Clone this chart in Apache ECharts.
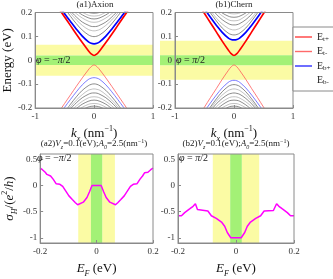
<!DOCTYPE html>
<html><head><meta charset="utf-8">
<script src="https://cdn.jsdelivr.net/npm/echarts@6/dist/echarts.min.js"></script>
<style>html,body{margin:0;padding:0;background:#fff}#c{width:333px;height:279px}</style>
</head><body><div id="c"></div>
<script>
// ---- data (bands are symmetric in k; values read for k >= 0) ----
const kHalf = [0, 0.05, 0.1, 0.2, 0.3, 0.4, 0.5, 0.6, 0.7];

// (a1) Axion
const a1Etp = [0.02, 0.027, 0.041, 0.074, 0.109, 0.145, 0.181, 0.217, 0.253];
const a1Etm = [-0.02, -0.027, -0.041, -0.074, -0.109, -0.145, -0.181, -0.217, -0.253];
const a1Ebp = [0.069, 0.071, 0.078, 0.101, 0.130, 0.162, 0.195, 0.229, 0.264];
const a1Ebm = [-0.073, -0.075, -0.081, -0.103, -0.132, -0.164, -0.197, -0.231, -0.266];
const a1SubUp = [
  [0.099, 0.101, 0.107, 0.126, 0.153, 0.184, 0.218],
  [0.123, 0.125, 0.129, 0.146, 0.169, 0.197, 0.229],
  [0.141, 0.142, 0.147, 0.160, 0.181, 0.206],
  [0.159, 0.160, 0.164, 0.177, 0.195, 0.219],
  [0.173, 0.174, 0.178, 0.190, 0.207],
  [0.185, 0.186, 0.189, 0.201],
  [0.197, 0.198, 0.201, 0.212]
];
const a1SubDn = [
  [-0.099, -0.101, -0.107, -0.126, -0.153, -0.184, -0.218],
  [-0.120, -0.122, -0.126, -0.144, -0.167, -0.195, -0.227],
  [-0.137, -0.138, -0.143, -0.157, -0.178, -0.203],
  [-0.153, -0.154, -0.158, -0.172, -0.191, -0.214],
  [-0.167, -0.168, -0.172, -0.184, -0.202],
  [-0.181, -0.182, -0.185, -0.197, -0.214],
  [-0.192, -0.193, -0.196, -0.207]
];

// (b1) Chern
const b1Etp = [0.02, 0.028, 0.044, 0.080, 0.119, 0.157, 0.196, 0.235, 0.273];
const b1Etm = [-0.02, -0.028, -0.044, -0.080, -0.119, -0.157, -0.196, -0.235, -0.273];
const b1Ebp = [0.085, 0.087, 0.094, 0.117, 0.147, 0.180, 0.215, 0.25];
const b1Ebm = [-0.084, -0.086, -0.093, -0.116, -0.146, -0.179, -0.214, -0.25];
const b1SubUp = [
  [0.106, 0.108, 0.114, 0.135, 0.165, 0.199, 0.235],
  [0.127, 0.129, 0.134, 0.152, 0.177, 0.210],
  [0.148, 0.149, 0.154, 0.170, 0.193, 0.224],
  [0.165, 0.166, 0.170, 0.186, 0.206],
  [0.180, 0.181, 0.185, 0.198, 0.217],
  [0.194, 0.195, 0.198, 0.211]
];
const b1SubDn = [
  [-0.102, -0.104, -0.110, -0.132, -0.162, -0.196, -0.232],
  [-0.120, -0.122, -0.127, -0.146, -0.172, -0.204],
  [-0.137, -0.139, -0.143, -0.160, -0.183, -0.213],
  [-0.153, -0.154, -0.159, -0.174, -0.195, -0.223],
  [-0.167, -0.168, -0.172, -0.187, -0.207],
  [-0.181, -0.182, -0.186, -0.199, -0.218],
  [-0.192, -0.193, -0.197, -0.210]
];

// (a2) Hall conductance vs E_F
const a2E = [-0.2, -0.192, -0.182, -0.176, -0.170, -0.163, -0.154, -0.143, -0.137, -0.130, -0.120, -0.109, -0.098, -0.086, -0.075, -0.067, -0.047, -0.034, -0.025, -0.019, -0.016,
             0.016, 0.019, 0.025, 0.034, 0.047, 0.067, 0.075, 0.086, 0.098, 0.109, 0.120, 0.130, 0.137, 0.143, 0.154, 0.163, 0.170, 0.176, 0.182, 0.192, 0.2];
const a2S = [0.33, 0.30, 0.25, 0.21, 0.24, 0.18, 0.12, 0.03, 0.05, 0.02, -0.02, -0.11, -0.20, -0.27, -0.33, -0.37, -0.32, -0.23, -0.12, -0.04, 0.0,
             0.0, -0.04, -0.12, -0.23, -0.32, -0.37, -0.33, -0.27, -0.20, -0.11, -0.02, 0.02, 0.05, 0.03, 0.12, 0.18, 0.24, 0.21, 0.25, 0.30, 0.33];
// (b2)
const b2E = [-0.2, -0.188, -0.177, -0.160, -0.148, -0.140, -0.133, -0.129, -0.097, -0.085, -0.068, -0.050, -0.039, -0.030, -0.018,
             0.018, 0.030, 0.039, 0.050, 0.068, 0.085, 0.097, 0.129, 0.133, 0.140, 0.148, 0.160, 0.177, 0.188, 0.2];
const b2S = [-0.58, -0.58, -0.52, -0.45, -0.40, -0.35, -0.46, -0.48, -0.49, -0.58, -0.63, -0.70, -0.78, -0.90, -1.0,
             -1.0, -0.90, -0.78, -0.70, -0.63, -0.58, -0.49, -0.48, -0.46, -0.35, -0.40, -0.45, -0.52, -0.58, -0.58];

// band half-widths [yellow, green]
const bandA1 = [0.065, 0.02], bandB1 = [0.082, 0.021], bandA2 = [0.065, 0.02], bandB2 = [0.08, 0.02];
const legendNames = ['Et+', 'Et-', 'Eb+', 'Eb-'];
const sTicks = [-1, -0.5, 0, 0.5];

// ---- styles ----
const SERIF = 'Liberation Serif';
const YEL = '#fbfba4', GRN = '#a3f176';
const AX = '#8a8a8a';
const G1 = '#5a5a5a', G2 = '#a8a8a8';

function mirror(vals) {
  const pts = [];
  for (let i = vals.length - 1; i > 0; i--) pts.push([-kHalf[i], vals[i]]);
  for (let i = 0; i < vals.length; i++) pts.push([kHalf[i], vals[i]]);
  return pts;
}
function curve(ax, vals, color, width, name) {
  const s = {type: 'line', xAxisIndex: ax, yAxisIndex: ax, data: mirror(vals), smooth: 0.35,
    symbol: 'none', showSymbol: false, lineStyle: {color, width}, itemStyle: {color}, z: 3, silent: true, clip: true};
  if (name) s.name = name;
  return s;
}
function hBand(ax, b) {
  return {type: 'line', xAxisIndex: ax, yAxisIndex: ax, data: [], z: 1, silent: true,
    markArea: {silent: true, data: [
      [{yAxis: -b[0], itemStyle: {color: YEL}}, {yAxis: -b[1]}],
      [{yAxis: b[1], itemStyle: {color: YEL}}, {yAxis: b[0]}],
      [{yAxis: -b[1], itemStyle: {color: GRN}}, {yAxis: b[1]}]
    ]}};
}
function vBand(ax, b) {
  return {type: 'line', xAxisIndex: ax, yAxisIndex: ax, data: [], z: 1, silent: true,
    markArea: {silent: true, data: [
      [{xAxis: -b[0], itemStyle: {color: YEL}}, {xAxis: -b[1]}],
      [{xAxis: b[1], itemStyle: {color: YEL}}, {xAxis: b[0]}],
      [{xAxis: -b[1], itemStyle: {color: GRN}}, {xAxis: b[1]}]
    ]}};
}
const rich = {
  n: {fontFamily: SERIF, fontSize: 13, lineHeight: 18, color: '#111'},
  i: {fontFamily: SERIF, fontSize: 13, fontStyle: 'italic', lineHeight: 18, color: '#111'},
  s: {fontFamily: SERIF, fontSize: 8, fontStyle: 'italic', lineHeight: 18, verticalAlign: 'bottom', color: '#111'},
  p: {fontFamily: SERIF, fontSize: 8, lineHeight: 18, verticalAlign: 'top', color: '#111'}
};
const nameStyle = {fontFamily: SERIF, fontSize: 13, color: '#111', rich};
const lab = {fontFamily: SERIF, fontSize: 9, color: '#333'};
function xAx(gi, min, max, interval, name, show) {
  return {type: 'value', gridIndex: gi, min, max, interval, show: show !== false, z: 5,
    axisLine: {show: true, onZero: false, lineStyle: {color: AX}}, axisTick: {inside: true, length: 3, lineStyle: {color: AX}},
    splitLine: {show: false}, axisLabel: Object.assign({margin: 4}, lab),
    name, nameLocation: 'middle', nameGap: 17, nameTextStyle: nameStyle};
}
function yAx(gi, min, max, interval, name, show, custom, gap) {
  const a = {type: 'value', gridIndex: gi, min, max, show: show !== false, z: 5,
    axisLine: {show: true, onZero: false, lineStyle: {color: AX}}, axisTick: {inside: true, length: 3, lineStyle: {color: AX}},
    splitLine: {show: false}, axisLabel: Object.assign({margin: 3}, lab),
    name, nameLocation: 'middle', nameRotate: 90, nameGap: gap || 18, nameTextStyle: nameStyle};
  if (custom) { a.axisLabel.customValues = custom; a.axisTick.customValues = custom; }
  else a.interval = interval;
  return a;
}

const series = [];
series.push(hBand(0, bandA1));
series.push(hBand(4, bandB1));
series.push(vBand(2, bandA2));
series.push(vBand(3, bandB2));

function bandSet(ax, up, dn, Etp, Etm, Ebp, Ebm) {
  up.forEach((v, i) => series.push(curve(ax, v, i % 2 ? G2 : G1, 0.7)));
  dn.forEach((v, i) => series.push(curve(ax, v, i % 2 ? G2 : G1, 0.7)));
  series.push(curve(ax, Ebm, '#5a5aff', 0.8, 'Eb-'));
  series.push(curve(ax, Etm, '#ff5a5a', 0.8, 'Et-'));
  series.push(curve(ax, Ebp, '#0000ff', 1.7, 'Eb+'));
  series.push(curve(ax, Etp, '#ff0000', 1.7, 'Et+'));
}
bandSet(0, a1SubUp, a1SubDn, a1Etp, a1Etm, a1Ebp, a1Ebm);
bandSet(1, b1SubUp, b1SubDn, b1Etp, b1Etm, b1Ebp, b1Ebm);
series.push({type: 'line', xAxisIndex: 2, yAxisIndex: 2, data: a2E.map((e, i) => [e, a2S[i]]), symbol: 'none',
  lineStyle: {color: '#ff00ff', width: 1.5}, z: 3, silent: true});
series.push({type: 'line', xAxisIndex: 3, yAxisIndex: 3, data: b2E.map((e, i) => [e, b2S[i]]), symbol: 'none',
  lineStyle: {color: '#ff00ff', width: 1.5}, z: 3, silent: true});

const kName = '{i|k}{s|x}{n| (nm}{p|−1}{n|)}';
const eName = '{i|E}{s|F}{n| (eV)}';
const sName = '{i|σ}{s|H}{n|/(}{i|e}{p|2}{n|/}{i|h}{n|)}';

const smallRich = {
  n: {fontFamily: SERIF, fontSize: 9, lineHeight: 12, fill: '#222', color: '#222'},
  i: {fontFamily: SERIF, fontSize: 9, fontStyle: 'italic', lineHeight: 12, color: '#222'},
  s: {fontFamily: SERIF, fontSize: 6, fontStyle: 'italic', lineHeight: 12, verticalAlign: 'bottom', color: '#222'},
  p: {fontFamily: SERIF, fontSize: 6, lineHeight: 12, verticalAlign: 'top', color: '#222'}
};
const phiRich = {
  n: {fontFamily: SERIF, fontSize: 10, lineHeight: 12, color: '#222'},
  i: {fontFamily: SERIF, fontSize: 10, fontStyle: 'italic', lineHeight: 12, color: '#222'}
};
function gtext(x, y, text, align, r) {
  return {type: 'text', x, y, z: 10, silent: true,
    style: {text, align: align || 'center', verticalAlign: 'middle', rich: r || smallRich, font: '9px "Liberation Serif"', fill: '#222'}};
}
const phiM = '{i|φ}{n| = −}{i|π}{n|/2}';
const phiP = '{i|φ}{n| = }{i|π}{n|/2}';

const option = {
  animation: false,
  backgroundColor: '#fff',
  grid: [
    {left: 35, top: 12.5, width: 118, height: 95.5, show: true, borderColor: AX, borderWidth: 1, backgroundColor: 'transparent', z: 4},
    {left: 175, top: 12.5, width: 118, height: 95.5, show: true, borderColor: AX, borderWidth: 1, backgroundColor: 'transparent', z: 4},
    {left: 35, top: 154, width: 118, height: 96, show: true, borderColor: AX, borderWidth: 1, backgroundColor: 'transparent', z: 4},
    {left: 178, top: 154, width: 116, height: 96, show: true, borderColor: AX, borderWidth: 1, backgroundColor: 'transparent', z: 4},
    {left: 160, top: 12.5, width: 133, height: 95.5}
  ],
  xAxis: [
    xAx(0, -1, 1, 1, kName), xAx(1, -1, 1, 1, kName),
    xAx(2, -0.2, 0.2, 0.2, eName), xAx(3, -0.2, 0.2, 0.2, eName),
    xAx(4, -1, 1, 1, '', false)
  ],
  yAxis: [
    yAx(0, -0.2, 0.2, 0.1, 'Energy (eV)', true, null, 19), yAx(1, -0.2, 0.2, 0.1, ''),
    yAx(2, -1.1, 0.6, null, sName, true, sTicks, 16), yAx(3, -1.1, 0.6, null, '', true, sTicks),
    yAx(4, -0.2, 0.2, 0.1, '', false)
  ],
  legend: {
    orient: 'vertical', left: 293, top: 27, icon: 'rect', itemWidth: 17, itemHeight: 1.4, itemGap: 4,
    padding: [5, 6, 5, 2], borderColor: AX, borderWidth: 1, backgroundColor: '#fff', selectedMode: false,
    data: [{name: 'Et+', itemStyle: {color: '#ff4040'}}, {name: 'Et-', itemStyle: {color: '#ff6a6a'}},
           {name: 'Eb+', itemStyle: {color: '#3030ff'}}, {name: 'Eb-', itemStyle: {opacity: 0}}],
    formatter: n => '{m|E}{s|' + n.slice(1) + '}',
    textStyle: {rich: {
      m: {fontFamily: SERIF, fontSize: 10, lineHeight: 11, color: '#222'},
      s: {fontFamily: SERIF, fontSize: 7, lineHeight: 11, verticalAlign: 'bottom', color: '#222'}
    }}
  },
  graphic: [
    gtext(95, 5, '(a1)Axion'),
    gtext(234, 5, '(b1)Chern'),
    gtext(94, 144, '{n|(a2)}{i|V}{s|z}{n|=0.1(eV);}{i|A}{s|0}{n|=2.5(nm}{p|−1}{n|)}'),
    gtext(236, 144, '{n|(b2)}{i|V}{s|z}{n|=0.1(eV);}{i|A}{s|0}{n|=2.5(nm}{p|−1}{n|)}'),
    gtext(36, 60.5, phiM, 'left', phiRich),
    gtext(176, 60.5, phiP, 'left', phiRich),
    gtext(37, 158, phiM, 'left', phiRich),
    gtext(179, 158, phiP, 'left', phiRich)
  ],
  series
};
const chart = echarts.init(document.getElementById('c'), null, {renderer: 'canvas'});
chart.setOption(option);
</script></body></html>
